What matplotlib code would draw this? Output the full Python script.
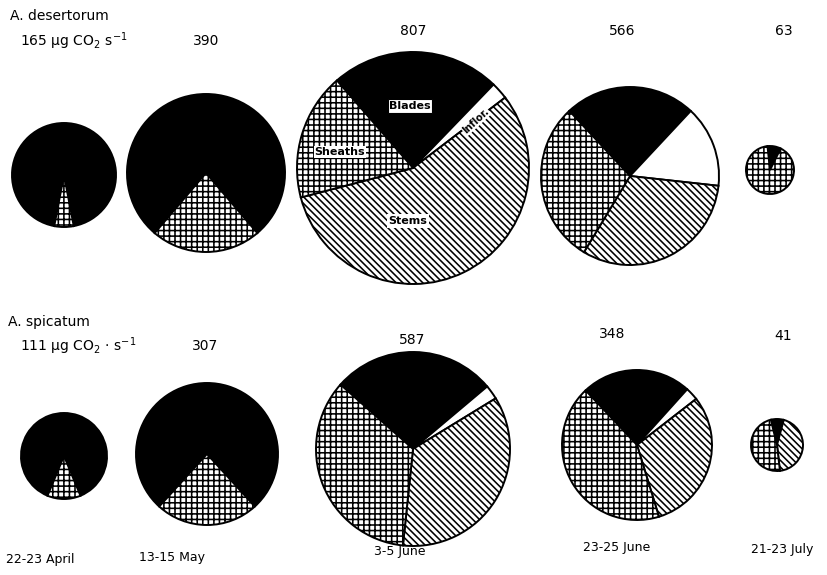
import matplotlib
matplotlib.use("Agg")
import matplotlib.pyplot as plt

plt.rcParams["hatch.linewidth"] = 1.15
plt.rcParams["font.family"] = ["DejaVu Sans"]
plt.rcParams["mathtext.default"] = "regular"

W, H = 827, 575

# ---- data -----------------------------------------------------------------
dates = ["22-23 April", "13-15 May", "3-5 June", "23-25 June", "21-23 July"]
parts = ["Blades", "Inflor.", "Stems", "Sheaths"]

# A. desertorum: whole-plant flux (ug CO2 s-1) and % share of each part
desertorum_totals = [165, 390, 807, 566, 63]
desertorum_blades = [94.0, 77.5, 23.6, 23.9, 9.0]
desertorum_inflor = [0.0, 0.0, 2.4, 14.8, 0.0]
desertorum_stems = [0.0, 0.0, 56.3, 31.9, 0.0]
desertorum_sheaths = [6.0, 22.5, 17.7, 29.4, 91.0]

# A. spicatum
spicatum_totals = [111, 307, 587, 348, 41]
spicatum_blades = [87.5, 76.5, 27.3, 23.7, 8.0]
spicatum_inflor = [0.0, 0.0, 2.4, 2.8, 0.0]
spicatum_stems = [0.0, 0.0, 35.4, 30.8, 44.0]
spicatum_sheaths = [12.5, 23.5, 34.9, 42.7, 48.0]

# ---- layout (pixel coordinates, y measured from the top) --------------------
top_centers = [(64, 175), (206, 173), (413, 168), (630, 176), (770, 170)]
top_radii = [52, 79, 116, 89, 24]
top_start = [-100.8, -130.5, 131.0, 133.0, 96.0]
top_value_pos = [(20, 41), (206, 41), (413, 31), (622, 31), (784, 31)]

bot_centers = [(64, 456), (207, 454), (413, 449), (637, 445), (777, 445)]
bot_radii = [43, 71, 97, 75, 26]
bot_start = [-112.5, -132.3, 138.4, 133.3, 103.7]
bot_value_pos = [(20, 346), (205, 346), (412, 340), (612, 334), (783, 336)]

date_pos = [(40, 560), (172, 558), (400, 552), (617, 548), (782, 549)]

part_style = {
    "Blades": dict(fc="black", hatch=None),
    "Inflor.": dict(fc="white", hatch=None),
    "Stems": dict(fc="white", hatch="\\" * 5),
    "Sheaths": dict(fc="white", hatch="+++"),
}

fig = plt.figure(figsize=(W / 100, H / 100), dpi=100)
ax = fig.add_axes([0, 0, 1, 1])


def draw_pie(shares, center, radius, start):
    vals, cols, hatches = [], [], []
    for name, v in zip(parts, shares):
        if v > 0:
            vals.append(v)
            cols.append(part_style[name]["fc"])
            hatches.append(part_style[name]["hatch"])
    ax.pie(vals, colors=cols, hatch=hatches, startangle=start,
           counterclock=False, normalize=True,
           center=(center[0], H - center[1]), radius=radius, frame=True,
           wedgeprops=dict(edgecolor="black", linewidth=1.4))


for i in range(5):
    draw_pie([desertorum_blades[i], desertorum_inflor[i],
              desertorum_stems[i], desertorum_sheaths[i]],
             top_centers[i], top_radii[i], top_start[i])
    draw_pie([spicatum_blades[i], spicatum_inflor[i],
              spicatum_stems[i], spicatum_sheaths[i]],
             bot_centers[i], bot_radii[i], bot_start[i])

ax.set_xlim(0, W)
ax.set_ylim(0, H)
ax.set_aspect("equal")
ax.axis("off")

fs = 10
# species headers
ax.text(10, H - 16, "A. desertorum", fontsize=fs, ha="left", va="center")
ax.text(8, H - 322, "A. spicatum", fontsize=fs, ha="left", va="center")

# flux totals; the first date also carries the units
for i in range(5):
    x, y = top_value_pos[i]
    if i == 0:
        ax.text(x, H - y, r"%d µg CO$_2$ s$^{-1}$" % desertorum_totals[i],
                fontsize=fs, ha="left", va="center")
    else:
        ax.text(x, H - y, str(desertorum_totals[i]), fontsize=fs,
                ha="center", va="center")
    x, y = bot_value_pos[i]
    if i == 0:
        ax.text(x, H - y, r"%d µg CO$_2$ · s$^{-1}$" % spicatum_totals[i],
                fontsize=fs, ha="left", va="center")
    else:
        ax.text(x, H - y, str(spicatum_totals[i]), fontsize=fs,
                ha="center", va="center")

for (x, y), d in zip(date_pos, dates):
    ax.text(x, H - y, d, fontsize=9, ha="center", va="center")

# part names inside the largest A. desertorum pie
box = dict(boxstyle="square,pad=0.15", fc="white", ec="black", lw=0.8)
ax.text(410, H - 106, "Blades", fontsize=8, fontweight="bold",
        ha="center", va="center", bbox=box)
ax.text(340, H - 152, "Sheaths", fontsize=8, fontweight="bold",
        ha="center", va="center", bbox=dict(boxstyle="square,pad=0.1",
                                            fc="white", ec="none"))
ax.text(408, H - 221, "Stems", fontsize=8, fontweight="bold",
        ha="center", va="center", bbox=dict(boxstyle="square,pad=0.15",
                                            fc="white", ec="none"))
ax.text(476, H - 121, "Inflor.", fontsize=7, fontweight="bold", rotation=43,
        ha="center", va="center", bbox=dict(boxstyle="square,pad=0.05",
                                            fc="white", ec="none"))

fig.savefig("out.png", dpi=100)
